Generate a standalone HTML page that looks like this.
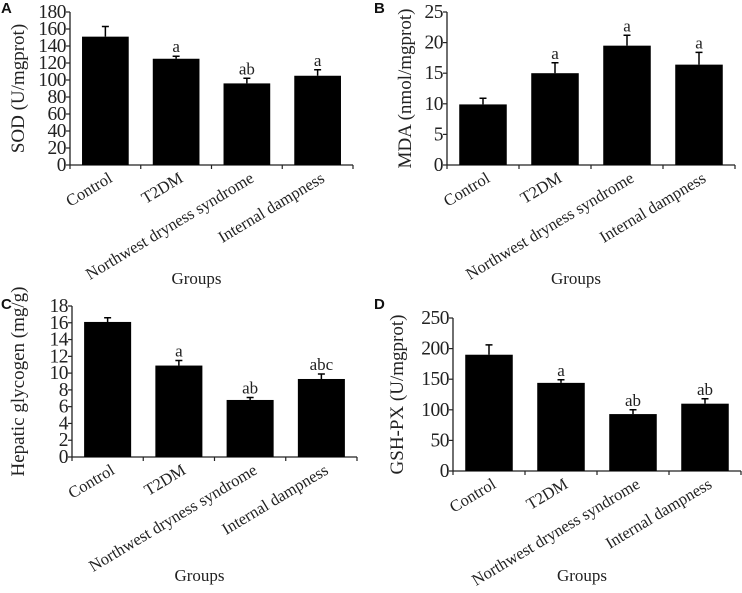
<!DOCTYPE html>
<html><head><meta charset="utf-8">
<style>
html,body{margin:0;padding:0;background:#fff}
svg{display:block}
text{font-family:"Liberation Serif",serif;fill:#222}
.pl{font-family:"Liberation Sans",sans-serif;font-weight:bold;font-size:15px;fill:#111}
</style></head>
<body>
<svg id="chart" width="742" height="593" xmlns="http://www.w3.org/2000/svg"></svg>
<script>
const categories = ["Control","T2DM","Northwest dryness syndrome","Internal dampness"];
const sodValues = [151,125,96,105];
const sodErrors = [12,3,6,7];
const sodMarks = ["","a","ab","a"];
const mdaValues = [9.9,15,19.5,16.4];
const mdaErrors = [1,1.7,1.7,2];
const mdaMarks = ["","a","a","a"];
const glyValues = [16.1,10.9,6.8,9.3];
const glyErrors = [0.5,0.6,0.3,0.6];
const glyMarks = ["","a","ab","abc"];
const gshValues = [190,144,93,110];
const gshErrors = [16,5,7,8];
const gshMarks = ["","a","ab","ab"];
const sodTicks = [0,20,40,60,80,100,120,140,160,180];
const mdaTicks = [0,5,10,15,20,25];
const glyTicks = [0,2,4,6,8,10,12,14,16,18];
const gshTicks = [0,50,100,150,200,250];

const NS="http://www.w3.org/2000/svg";
const svg=document.getElementById('chart');
function mk(tag,attrs,parent){const e=document.createElementNS(NS,tag);for(const k in attrs)e.setAttribute(k,attrs[k]);(parent||svg).appendChild(e);return e;}

function panel(cfg){
  const g=mk('g',{});
  
  
  const x0=cfg.x0,x1=cfg.x1,y0=cfg.y0,yTop=cfg.yTop;
  const max=cfg.ticks[cfg.ticks.length-1];
  const yS=v=>y0-(v/max)*(y0-yTop);
  const slot=(x1-x0)/categories.length;
  const xC=i=>x0+slot*(i+0.5);
  const bw=slot*0.66;
  const lab=mk('text',{x:cfg.lx,y:cfg.ly,class:'pl'},g);lab.textContent=cfg.letter;
  
  
  const ya=mk('line',{x1:x0,y1:y0,x2:x0,y2:yTop,stroke:'#222','stroke-width':1.3},g);
  
  
  const xa=mk('line',{x1:x0,y1:y0,x2:x1,y2:y0,stroke:'#222','stroke-width':1.3},g);
  
  
  cfg.ticks.forEach(t=>{
    mk('line',{x1:x0-4,y1:yS(t),x2:x0,y2:yS(t),stroke:'#222','stroke-width':1.2},g);
    const tx=mk('text',{x:x0-4,y:yS(t)+6,'text-anchor':'end','font-size':19.5,'letter-spacing':'-0.5'},g);
    tx.textContent=t;
    
    
  });
  for(let i=0;i<=categories.length;i++){
    mk('line',{x1:x0+slot*i,y1:y0,x2:x0+slot*i,y2:y0+4,stroke:'#222','stroke-width':1.2},g);
  }
  const yt=mk('text',{x:0,y:0,'text-anchor':'middle','font-size':19,transform:`translate(${cfg.ytx},${(y0+yTop)/2}) rotate(-90)`},g);
  yt.textContent=cfg.ytitle;
  
  
  cfg.values.forEach((v,i)=>{
    const cx=xC(i), top=yS(v), et=yS(v+cfg.errors[i]);
    const b=mk('rect',{x:cx-bw/2,y:top,width:bw,height:y0-top,fill:'#000'},g);
    
    
    const e=mk('path',{d:`M${cx} ${top}V${et}M${cx-3.5} ${et}H${cx+3.5}`,stroke:'#000','stroke-width':1.5,fill:'none'},g);
    
    
    if(cfg.marks[i]){
      const m=mk('text',{x:cx,y:et-4,'text-anchor':'middle','font-size':17},g);
      m.textContent=cfg.marks[i];
      
      
    }
    const cl=mk('text',{x:0,y:0,'text-anchor':'end','font-size':16.5,transform:`translate(${cx+8},${y0+16}) rotate(-31)`},g);
    cl.textContent=categories[i];
    
    
  });
  const gt=mk('text',{x:(x0+x1)/2-15,y:y0+cfg.gy,'text-anchor':'middle','font-size':17},g);
  gt.textContent='Groups';
  
  
}
panel({name:'panel-a-sod',letter:'A',lx:1,ly:13,x0:70,x1:353,y0:165,yTop:12,gy:119,ticks:sodTicks,values:sodValues,errors:sodErrors,marks:sodMarks,ytitle:'SOD (U/mgprot)',ytx:24});
panel({name:'panel-b-mda',letter:'B',lx:374,ly:13,x0:447,x1:735,y0:165,yTop:12,gy:119,ticks:mdaTicks,values:mdaValues,errors:mdaErrors,marks:mdaMarks,ytitle:'MDA (nmol/mgprot)',ytx:411});
panel({name:'panel-c-glycogen',letter:'C',lx:1,ly:309,x0:72,x1:357,y0:457,yTop:306,gy:124,ticks:glyTicks,values:glyValues,errors:glyErrors,marks:glyMarks,ytitle:'Hepatic glycogen (mg/g)',ytx:24});
panel({name:'panel-d-gshpx',letter:'D',lx:374,ly:309,x0:453,x1:741,y0:471,yTop:318,gy:110,ticks:gshTicks,values:gshValues,errors:gshErrors,marks:gshMarks,ytitle:'GSH-PX (U/mgprot)',ytx:403});
</script>
</body></html>
